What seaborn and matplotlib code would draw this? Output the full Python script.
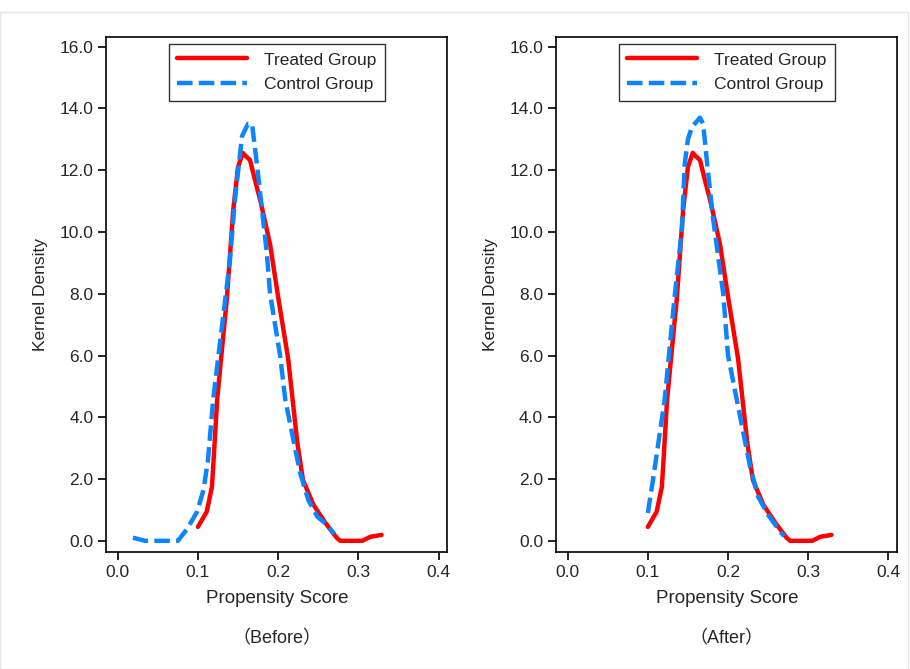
import numpy as np
import pandas as pd
import seaborn as sns
import matplotlib.pyplot as plt
from matplotlib.patches import Rectangle

# treated group curve (same in both panels)
treated_x = [0.100, 0.111, 0.1175, 0.120, 0.124, 0.130, 0.136, 0.144, 0.150, 0.156, 0.160, 0.165,
             0.171, 0.178, 0.184, 0.190, 0.200, 0.2125, 0.224, 0.231, 0.244, 0.259, 0.273, 0.2775,
             0.290, 0.305, 0.315, 0.329]
treated_y = [0.45, 0.94, 1.75, 2.8, 4.56, 6.2, 7.8, 10.7, 12.1, 12.56, 12.45, 12.33,
             11.7, 11.0, 10.3, 9.6, 7.9, 5.9, 3.17, 1.97, 1.17, 0.58, 0.10, 0.0,
             0.0, 0.0, 0.13, 0.19]

# control group before matching
before_x = [0.019, 0.034, 0.050, 0.075, 0.086, 0.099, 0.107, 0.1125, 0.119, 0.127, 0.134, 0.140,
            0.146, 0.155, 0.1625, 0.1675, 0.174, 0.180, 0.186, 0.190, 0.2025, 0.209, 0.219,
            0.2275, 0.2375, 0.249, 0.261, 0.2675, 0.270]
before_y = [0.10, 0.0, 0.0, 0.0, 0.36, 0.94, 1.65, 2.6, 4.56, 6.3, 7.8, 9.1,
            11.0, 13.1, 13.5, 13.5, 12.1, 10.7, 9.3, 8.0, 6.0, 4.56, 3.27,
            2.2, 1.33, 0.78, 0.52, 0.30, 0.22]

# control group after matching
after_x = [0.100, 0.106, 0.115, 0.121, 0.127, 0.133, 0.1425, 0.146, 0.150, 0.155, 0.165, 0.169,
           0.174, 0.181, 0.194, 0.200, 0.211, 0.219, 0.2275, 0.2375, 0.250, 0.265, 0.270]
after_y = [0.90, 1.9, 3.5, 4.56, 6.2, 7.8, 10.1, 12.2, 13.0, 13.4, 13.7, 13.5,
           12.2, 10.5, 8.0, 6.0, 4.56, 3.5, 2.4, 1.43, 0.84, 0.30, 0.15]

groups = ['Treated Group', 'Control Group']
panels = ['Before', 'After']
y_ticks = [0, 2, 4, 6, 8, 10, 12, 14, 16]
x_ticks = [0.0, 0.1, 0.2, 0.3, 0.4]

rows = []
for p, cx, cy in [('Before', before_x, before_y), ('After', after_x, after_y)]:
    rows += [(p, 'Treated Group', x, y) for x, y in zip(treated_x, treated_y)]
    rows += [(p, 'Control Group', x, y) for x, y in zip(cx, cy)]
df = pd.DataFrame(rows, columns=['panel', 'group', 'score', 'density'])

sns.set_theme(style='white')
plt.rcParams['font.family'] = ['Liberation Sans', 'DejaVu Sans']
plt.rcParams['axes.edgecolor'] = 'black'
plt.rcParams['axes.linewidth'] = 1.2

palette = {'Treated Group': '#FF0000', 'Control Group': '#0A85FF'}
dashes = {'Treated Group': '', 'Control Group': (3.5, 1.4)}

fig, axes = plt.subplots(1, 2, figsize=(9.1, 6.69), dpi=100)
fig.subplots_adjust(left=0.117, right=0.986, top=0.945, bottom=0.175, wspace=0.32)

for ax, p in zip(axes, panels):
    sub = df[df['panel'] == p]
    sns.lineplot(data=sub, x='score', y='density', hue='group', style='group',
                 hue_order=groups, style_order=groups, palette=palette, dashes=dashes,
                 estimator=None, sort=False, linewidth=3.2, ax=ax)
    ax.set_xlim(-0.014, 0.411)
    ax.set_ylim(-0.36, 16.32)
    ax.set_xticks(x_ticks)
    ax.set_xticklabels([f'{v:.1f}' for v in x_ticks])
    ax.set_yticks(y_ticks)
    ax.set_yticklabels([f'{v:.1f}' for v in y_ticks])
    ax.tick_params(axis='both', direction='out', length=6, width=1.2, labelsize=12.5,
                   color='black', left=True, bottom=True)
    ax.set_xlabel('Propensity Score', fontsize=13.5, labelpad=7)
    ax.set_ylabel('Kernel Density', fontsize=12.5, labelpad=8)
    for s in ax.spines.values():
        s.set_visible(True)
        s.set_color('black')
    leg = ax.legend(loc='upper center', fontsize=12.5, frameon=True, fancybox=False,
                    edgecolor='black', handlelength=4.0, borderaxespad=0.4,
                    handletextpad=1.0, labelspacing=0.55, borderpad=0.5)
    leg.get_frame().set_linewidth(1.0)
    ax.text(0.5, -0.168, f'（{p}）', transform=ax.transAxes, ha='center', va='center',
            fontsize=13, family=['Liberation Sans', 'Noto Sans CJK SC', 'DejaVu Sans'])

fig.patches.append(Rectangle((0.0, 0.0), 0.998, 0.982, transform=fig.transFigure,
                             fill=False, edgecolor='#e6e6e6', linewidth=1))

fig.savefig('out.png', dpi=100)
